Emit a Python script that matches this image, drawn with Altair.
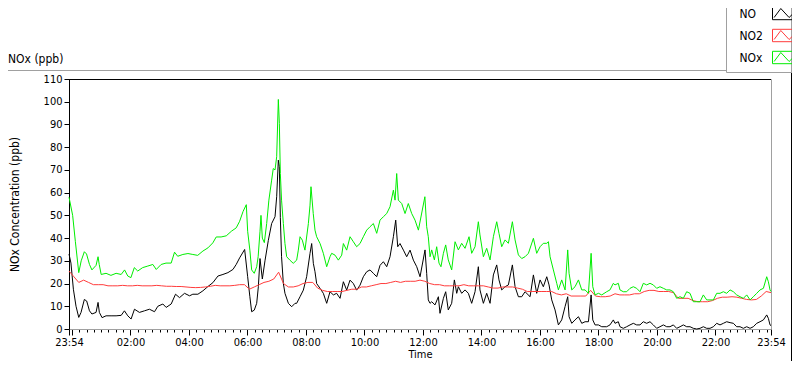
import altair as alt
import pandas as pd

# ---- data (time = minutes after 23:54) ----
nox_t = [0, 7.5, 13, 20, 25, 31.5, 36, 42, 47, 55.5, 59.6, 62, 66, 76, 86, 96.6, 107, 114, 120.6, 127,
         134, 141, 151, 161.7, 172, 179, 189, 199, 209.6, 216.5, 223, 233.6, 244, 254, 264, 274.7, 285, 295, 302, 312,
         322.6, 333, 343, 350, 357, 363.7,
         366.5, 371, 374.7, 380, 385, 388, 391.8, 393.8, 396.6, 400.7, 405.5, 410, 415.7, 419, 422.6, 426, 429.4, 431.5, 433.5, 436,
         439.7, 443, 446.5, 453, 460, 467, 470.4, 473.9, 478.6, 484, 491, 494.4, 496.4, 501, 504.6, 508, 515, 521.7, 528.6, 535.4,
         538.8, 545.7, 552.5, 559.4, 562.8, 569.6, 576.5, 583.3, 590, 597, 603.8, 610.7, 617.5, 624.3, 631.2, 638, 644.9, 651.7, 658.5, 665.4,
         668.8, 672.2, 675.6, 682.5, 689.3, 696, 703, 709.8, 716.7,
         730, 733.7, 737, 740.6, 744, 749.5, 754.2, 759, 763, 768, 772.7, 778, 785, 791.9, 798.7, 805.5, 812.4, 820.6, 826, 832.9,
         839.7, 843, 850, 856.8, 863.7, 870.5, 877.4, 882, 887.6, 894.5, 901.3, 909.5, 915, 921.8, 928.7, 935.5, 942.4, 952.6, 959.4, 966.3,
         973, 980, 983.4, 986.8, 993.6, 1000.5, 1003.9, 1010.7, 1017.6, 1023, 1025.8, 1031.3, 1038, 1045, 1051.8, 1058.6, 1065.5, 1071, 1074.4, 1079.1,
         1086, 1092.8,
         1102.9, 1109.7, 1116.6, 1120, 1126.8, 1130.2, 1137, 1143.9, 1150.8, 1157.6, 1164.4, 1171.3, 1178.1, 1185, 1191.8, 1198.6, 1205.5, 1212.3, 1219.2, 1226,
         1232.8, 1239.7, 1246.5, 1253.4, 1260.2, 1267, 1273.9, 1280.7, 1287.6, 1294.4, 1301.2, 1308.1, 1314.9, 1321.8, 1328.6, 1335.4, 1342.3, 1349.1, 1356, 1362.8,
         1369.6, 1376.5, 1383.3, 1390.2, 1397, 1403.8, 1410.7, 1417.5, 1424.4, 1431.2, 1434.6, 1438, 1440]
nox_v = [58, 50, 38.6, 24.8, 30, 34, 33, 28.4, 26, 28, 31.8, 28.4, 24, 24.5, 23.6, 24.5, 24, 26, 23.3, 22.6,
         27, 25.5, 27, 27.7, 28.4, 26.2, 28.4, 29, 29, 33.8, 32, 32.8, 33.2, 32.8, 32.4, 34.3, 35.7, 37.9, 40.5, 40.5,
         41, 43, 44.5, 47.4, 51.7, 54.7,
         43, 34.7, 26, 24.5, 27.4, 31.8, 43, 50, 40, 38, 46.4, 56.7, 65.5, 70.6, 70, 75.8, 101, 90.4, 68.4, 56.7,
         46.4, 37.6, 31.8, 30.3, 28.9, 30.3, 34.7, 40.6, 39.1, 34.7, 46.4, 54.5, 62.6, 50.8, 43.5, 40.6, 37.6, 33.3, 27.4, 31.8,
         33.3, 32.5, 30.3, 32.5, 37.6, 34.7, 40.6, 38.4, 36.2, 37.6, 40.6, 43.5, 45, 46.4, 42.1, 47.9, 49.4, 50.8, 53.8, 61.1,
         56.7, 68.4, 56.7, 55.2, 50.8, 55.2, 50.8, 47.9, 43.5,
         58.2, 45, 40.6, 31.8, 34.8, 30.4, 36.2, 29, 27.4, 33.3, 37, 30.4, 26, 38.4, 34.8, 37.7, 35.5, 40.6, 33.3, 36.2,
         47.2, 41.4, 31.8, 35.5, 30.4, 40.6, 47.2, 42.1, 36.2, 39.2, 37.7, 47.2, 39.2, 32.6, 31, 31.8, 33.3, 39.9, 33.3, 36.2,
         37.7, 37.7, 38.4, 31.8, 26, 20.1, 17.2, 21.6, 17.2, 34.8, 24.5, 17.2, 18.6, 21.6, 17.2, 17.2, 15.7, 33.3, 18.6, 15,
         15.7, 15,
         16.4, 17.2, 20.1, 19.4, 20.1, 17.2, 16.4, 16.4, 17.9, 18.6, 17.9, 16.4, 20.1, 19.4, 20.1, 19.4, 17.9, 18.6, 17.9, 17.2,
         17.2, 16.4, 13.5, 14.2, 13.5, 16.4, 15.7, 12, 12, 12, 15, 12.8, 12.8, 12.8, 15.7, 15.7, 16.4, 15.7, 17.2, 16.4,
         15, 14.2, 13.5, 15, 12.8, 14.2, 15.7, 17.2, 17.9, 23, 20.8, 17.2, 16.5]

no_t = [0, 4, 9, 14.4, 20, 24.7, 31.5, 36.3, 42, 47, 55.5, 59.6, 62.3, 67.8, 76, 86.3, 96.6, 107, 113.7, 120.6,
        127.4, 134.3, 144.5, 154.8, 165, 175.4, 182.2, 192.5, 199.3, 209.6, 218.5, 226.7, 237, 247.3, 254, 264.4, 274.7, 285, 295.2, 305.5,
        315.8, 326, 336.3, 343, 350, 360.3,
        366.5, 371, 374.7, 380, 385, 388.4, 391.8, 396.6, 402, 408.9, 415.7, 422.6, 426, 429.4, 431.5, 433.5, 436, 439.7, 443, 450,
        456.8, 463.6, 467, 473.9, 480.7, 487.5, 494.4, 497.8, 501.2, 504.6, 508, 514.9, 521.7, 528.6, 535.4, 542.3, 549, 556, 562.8, 569.6,
        576.5, 583.3, 590, 597, 603.8, 610.7, 617.5, 624.3, 631.2, 638, 644.9, 651.7, 658.5, 665.4, 670.2, 674.3, 679, 686, 692.7, 699.6,
        706.4, 713.3, 720.1,
        730.3, 733.7, 737, 740.6, 744, 750.8, 757.7, 761, 768, 772.7, 778, 785, 790.5, 795.3, 798.7, 805.5, 812.4, 819.2, 826, 832.9,
        839.7, 843, 850, 856.8, 863.7, 870.5, 877.4, 882, 887.6, 894.5, 901.3, 909.5, 915, 921.8, 928.7, 935.5, 945.8, 952.6, 959.4, 966.3,
        973, 980, 984.7, 990.2, 997, 1003.9, 1010.7, 1017.6, 1023, 1025.8, 1031.3, 1038, 1045, 1051.8, 1058.6, 1065.5, 1071, 1074.4, 1079.1, 1086,
        1092.8,
        1102.9, 1109.7, 1116.6, 1120, 1126.8, 1130.2, 1137, 1143.9, 1150.8, 1157.6, 1164.4, 1171.3, 1178.1, 1185, 1191.8, 1198.6, 1205.5, 1212.3, 1219.2, 1226,
        1232.8, 1239.7, 1246.5, 1253.4, 1260.2, 1267, 1273.9, 1280.7, 1287.6, 1294.4, 1301.2, 1308.1, 1314.9, 1321.8, 1328.6, 1335.4, 1342.3, 1349.1, 1356, 1362.8,
        1369.6, 1376.5, 1383.3, 1390.2, 1397, 1403.8, 1410.7, 1417.5, 1424.4, 1431.2, 1434.6, 1438, 1440]
no_v = [33, 29, 17.5, 10, 5.1, 7.3, 13, 12.3, 8, 6.6, 7.3, 11.7, 7.3, 5, 5.8, 5.8, 5.8, 6, 8, 5.8,
        4.4, 8.7, 7.3, 8, 8.7, 7.6, 10, 11, 9.5, 11, 15.3, 13.8, 15.7, 14.6, 15.3, 15.3, 16.8, 18.7, 20.4, 23.3,
        24, 24.8, 26.2, 28.4, 31.3, 35,
        23, 14.2, 7.6, 8.3, 11.3, 18.6, 31, 22, 30, 39, 46.4, 49.4, 58.2, 74.3, 71.4, 49, 31.8, 20, 15.7, 11.3,
        9.8, 11.3, 11.3, 14.2, 17.1, 23, 33.3, 37.6, 28.9, 25.2, 20, 17.9, 15.7, 11.3, 16.4, 15, 15.7, 13.5, 20.8, 17.1,
        21.5, 20, 17.1, 19.3, 23, 25.2, 26, 24.5, 23, 28, 29.6, 27.4, 31.8, 40.6, 47.9, 36.2, 37.6, 34.7, 31.8, 34.7,
        30.3, 27.4, 23,
        34.8, 24.5, 12.8, 11.3, 12, 10.6, 14.2, 6.9, 13.5, 16.4, 8.4, 11.3, 21.6, 15.7, 18.6, 15.7, 17.2, 15.7, 11.3, 16.4,
        27.4, 17.2, 11.3, 15.7, 11.3, 23.8, 28.2, 21.6, 17.2, 18.6, 19.4, 28.2, 18.6, 14.2, 14.2, 16.4, 14.2, 23.8, 15.7, 21.6,
        18.6, 23, 19.4, 12.8, 8.4, 1.8, 4, 9.9, 14.2, 5.4, 2.5, 4, 5.4, 2.5, 3.2, 3.2, 15, 4, 1.8, 1.8,
        1,
        1, 1.8, 4, 2.5, 3.2, 1, 0.3, 1, 1.8, 2.5, 1.8, 1.8, 3.2, 2.5, 3.2, 1.8, 0.3, 1, 1.8, 1,
        1, 1.8, 0.3, 1, 1.8, 1, 1, 0.3, 0, 0.3, 1, 0.3, 0.3, 1, 2.5, 1.8, 2.5, 3.2, 2.8, 2.5,
        1, 1, 0.3, 1, 0.3, 1, 2.5, 3.2, 4, 6.2, 4.7, 1.8, 1.5]

no2_t = list(range(0, 1441, 10))
no2_v = [25.5, 23, 20.5, 21.5, 20.5, 19.5, 19.5, 19.5, 19, 19, 19, 19.2, 19, 19, 19.2, 19, 19, 19, 19.2, 19,
         18.8, 18.8, 18.7, 18.7, 18.5, 18.3, 18.2, 18.3, 18.5, 18.8, 19.2, 19, 19, 19, 19.2, 19.5, 19.5, 17.5, 18.5, 19.5,
         20.5, 21, 22, 25, 20, 18.5, 18.5, 19, 20, 20.5, 20.5, 18, 17, 16.5, 16.5, 16.5, 16.5, 17, 17.5, 17.5,
         18.5, 18.5, 19, 19.5, 20, 20, 20.5, 21, 20.5, 21, 21, 21, 21.5, 21, 20, 19.5, 19.5, 19, 19, 19,
         19, 19.5, 19, 19, 19, 19, 18.5, 18, 18, 18.5, 18.5, 18.5, 18, 17.5, 16.5, 16.5, 16.5, 16.5, 16.5, 16.5,
         15.5, 15, 15.5, 14.5, 14.5, 14.5, 14.5, 17, 14.5, 14.2, 14.2, 14.5, 15.5, 15, 15, 15, 15.5, 15.5, 16.5, 17,
         17, 16.5, 16.5, 16.5, 16, 13.5, 13.5, 13.5, 12.5, 12, 12, 12, 12.5, 13.5, 14, 14, 14.2, 14, 13.5, 13,
         12.8, 13, 14.5, 16.5, 16]

assert len(nox_t) == len(nox_v) and len(no_t) == len(no_v) and len(no2_t) == len(no2_v)

series_names = ["NO", "NO2", "NOx"]
series_colors = ["#000000", "#ff3c3c", "#00ee00"]

y_ticks = list(range(0, 111, 10))
labelled_ticks = [0] + list(range(126, 1440, 120)) + [1440]
major_ticks = [0] + list(range(6, 1440, 120)) + [1440]
minor_ticks = list(range(6, 1440, 15))
tick_values = sorted(set(major_ticks + minor_ticks + labelled_ticks))


def clock(v):
    m = (v + 23 * 60 + 54) % 1440
    return f"{m // 60:02d}:{m % 60:02d}"


tick_labels = {v: clock(v) for v in labelled_ticks}

rows = []
for name, ts, vs in zip(series_names, [no_t, no2_t, nox_t], [no_v, no2_v, nox_v]):
    for t, v in zip(ts, vs):
        rows.append({"t": t, "v": v, "series": name})
df = pd.DataFrame(rows)

label_expr = ""
for v, lab in tick_labels.items():
    label_expr += f"datum.value == {v} ? '{lab}' : "
label_expr += "''"
major_test = "indexof([" + ",".join(str(v) for v in major_ticks) + "], datum.value) >= 0"

FONT = "Tahoma, 'DejaVu Sans Condensed', 'Liberation Sans', sans-serif"
W, H = 702, 250

# legend icon: small box with a zigzag, drawn to the right of the label
legend_shape = ("M39,-6.2H67V6.2H39Z "
                "M40.6,4L47.3,-5L55.6,4L65.6,-5.8")

lines = alt.Chart(df).mark_line(strokeWidth=1, interpolate="linear").encode(
    x=alt.X("t:Q",
            scale=alt.Scale(domain=[0, 1440], nice=False, zero=False),
            axis=alt.Axis(values=tick_values, labelExpr=label_expr, labelOverlap=False,
                          labelFlush=False, grid=False, domainColor="#a0a0a0",
                          tickColor="#000000",
                          tickSize={"condition": {"test": major_test, "value": 6}, "value": 3},
                          labelPadding=1, title="Time", titlePadding=1, titleFontSize=11)),
    y=alt.Y("v:Q",
            scale=alt.Scale(domain=[0, 110], nice=False, zero=True),
            axis=alt.Axis(values=y_ticks, grid=False, domainColor="#000000", tickColor="#000000",
                          tickSize=5, labelPadding=2, title="NOx Concentration (ppb)",
                          titlePadding=22)),
    color=alt.Color("series:N",
                    scale=alt.Scale(domain=series_names, range=series_colors),
                    legend=alt.Legend(title=None, orient="none", legendX=653.5, legendY=-76.5,
                                      symbolType=legend_shape, symbolSize=4,
                                      symbolStrokeWidth=1, labelOffset=0, padding=5,
                                      rowPadding=4, strokeColor="transparent",
                                      fillColor="transparent",
                                      labelFont=FONT, labelFontSize=12, labelColor="#000000")),
)

one = pd.DataFrame({"a": [0]})
legend_box = alt.Chart(one).mark_rect(fill="#ffffff", stroke="#a0a0a0", strokeWidth=1).encode(
    x=alt.value(657.5), x2=alt.value(722.5), y=alt.value(-79), y2=alt.value(-6.5))
outer_top = alt.Chart(one).mark_rule(color="#a0a0a0", strokeWidth=1).encode(
    x=alt.value(-69), x2=alt.value(657.5), y=alt.value(-8.5))
outer_right = alt.Chart(one).mark_rule(color="#000000", strokeWidth=1).encode(
    x=alt.value(722.5), y=alt.value(-6.5), y2=alt.value(282))
top_frame = alt.Chart(one).mark_rule(color="#000000", strokeWidth=1).encode(
    x=alt.value(0), x2=alt.value(W), y=alt.value(0.5))
panel_title = alt.Chart(one).mark_text(align="left", baseline="alphabetic", font=FONT,
                                       fontSize=12, color="#000000").encode(
    x=alt.value(-61), y=alt.value(-16), text=alt.value("NOx (ppb)"))

chart = alt.layer(outer_top, outer_right, legend_box, panel_title, lines, top_frame).properties(
    width=W, height=H,
    autosize=alt.AutoSizeParams(type="none"),
    padding={"left": 61, "top": 71, "right": 21, "bottom": 32},
).configure_view(stroke="#a0a0a0", strokeWidth=1).configure_axis(
    labelFont=FONT, labelFontSize=11, labelColor="#000000",
    titleFont=FONT, titleFontSize=12, titleFontWeight="normal", titleColor="#000000",
)

chart.save("out.html", embed_options={"renderer": "svg", "actions": False})
